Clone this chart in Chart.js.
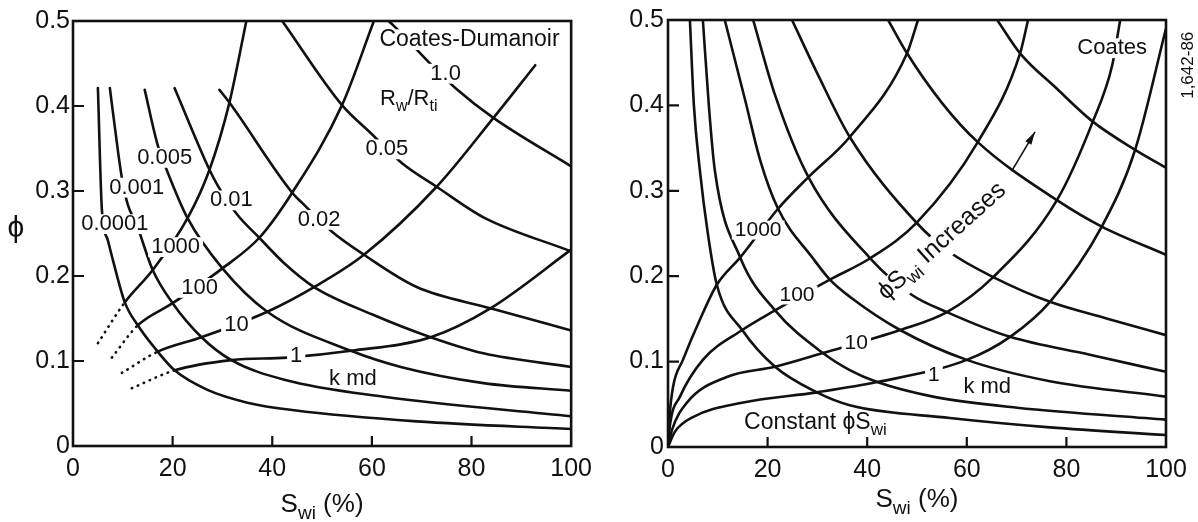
<!doctype html>
<html>

<head>
    <meta charset="utf-8">
    <title>Coates-Dumanoir / Coates</title>
    <script src="https://cdn.jsdelivr.net/npm/chart.js"></script>
    <style>
        body { margin: 0; background: #fff; overflow: hidden; }
        #wrap { position: relative; width: 1198px; height: 522px; }
        #left { position: absolute; left: 0; top: 0; }
        #right { position: absolute; left: 600px; top: 0; }
    </style>
</head>

<body>
    <div id="wrap">
        <canvas id="left" width="600" height="522"></canvas>
        <canvas id="right" width="598" height="522"></canvas>
    </div>

    <script>
        // ---------- left panel: Coates-Dumanoir (Swi in %, phi as fraction) ----------
        const cdRwLabels = ['0.0001', '0.001', '0.005', '0.01', '0.02', '0.05', '1.0'];

        const cdRw1Swi = [5.0, 5.8, 7.0, 8.0, 10.4, 13.0, 17.0, 20.4, 27.0, 35.0, 44.4, 69.0, 100];
        const cdRw1Phi = [0.421, 0.278, 0.242, 0.219, 0.169, 0.142, 0.111, 0.089, 0.066, 0.051, 0.042, 0.029, 0.020];
        const cdRw2Swi = [7.4, 9.0, 9.8, 11.0, 12.8, 16.0, 20.0, 25.8, 31.8, 42.4, 62.4, 100];
        const cdRw2Phi = [0.421, 0.348, 0.316, 0.284, 0.260, 0.207, 0.168, 0.128, 0.101, 0.078, 0.058, 0.035];
        const cdRw3Swi = [14.4, 17.0, 18.8, 23.0, 30.0, 39.0, 55.8, 65.8, 82.4, 100];
        const cdRw3Phi = [0.419, 0.354, 0.325, 0.268, 0.209, 0.158, 0.112, 0.093, 0.074, 0.065];
        const cdRw4Swi = [20.4, 27.4, 29.0, 33.0, 37.4, 42.4, 48.4, 60.0, 71.8, 82.4, 100];
        const cdRw4Phi = [0.421, 0.325, 0.307, 0.272, 0.245, 0.215, 0.187, 0.155, 0.128, 0.109, 0.093];
        const cdRw5Swi = [29.4, 31.4, 44.0, 46.0, 52.0, 58.4, 69.0, 83.8, 100];
        const cdRw5Phi = [0.419, 0.404, 0.298, 0.286, 0.252, 0.225, 0.187, 0.162, 0.136];
        const cdRw6Swi = [42.0, 54.0, 59.8, 66.0, 73.0, 82.4, 100];
        const cdRw6Phi = [0.5, 0.401, 0.368, 0.333, 0.305, 0.269, 0.229];
        const cdRw7Swi = [63.4, 65.8, 72.0, 76.8, 84.4, 100];
        const cdRw7Phi = [0.5, 0.486, 0.448, 0.421, 0.386, 0.329];

        // permeability lines, k md (first segment is the dotted extension)
        const cdKLabels = ['1000', '100', '10', '1'];
        const cdK1000Swi = [5.0, 10.4, 16.0, 23.0, 27.4, 31.4, 34.8];
        const cdK1000Phi = [0.121, 0.169, 0.207, 0.268, 0.325, 0.404, 0.5];
        const cdK100Swi = [7.8, 13.0, 20.0, 30.0, 37.4, 44.0, 54.0, 60.4];
        const cdK100Phi = [0.104, 0.142, 0.168, 0.209, 0.245, 0.298, 0.401, 0.5];
        const cdK10Swi = [9.8, 17.0, 25.8, 39.0, 48.4, 58.4, 73.0, 84.4, 92.8];
        const cdK10Phi = [0.086, 0.111, 0.128, 0.158, 0.187, 0.225, 0.305, 0.386, 0.448];
        const cdK1Swi = [11.8, 20.4, 31.8, 43.0, 55.8, 71.8, 83.8, 100];
        const cdK1Phi = [0.068, 0.089, 0.101, 0.104, 0.112, 0.128, 0.162, 0.231];

        // ---------- right panel: Coates ----------
        const coC1Swi = [4.4, 5.2, 6.4, 8.0, 9.8, 14.9, 21.5, 29.9, 36.5, 56.6, 76.7, 100];
        const coC1Phi = [0.5, 0.40, 0.324, 0.250, 0.190, 0.137, 0.094, 0.064, 0.049, 0.034, 0.023, 0.014];
        const coC2Swi = [7.0, 8.2, 9.4, 14.5, 21.5, 31.1, 36.5, 42.0, 53.2, 70.1, 100];
        const coC2Phi = [0.5, 0.40, 0.324, 0.222, 0.160, 0.110, 0.090, 0.076, 0.059, 0.046, 0.032];
        const coC3Swi = [11.4, 15.5, 18.5, 22.1, 29.1, 32.5, 36.5, 46.6, 60.0, 76.7, 100];
        const coC3Phi = [0.5, 0.406, 0.336, 0.279, 0.221, 0.196, 0.176, 0.137, 0.102, 0.077, 0.059];
        const coC4Swi = [17.1, 21.5, 28.2, 40.6, 49.0, 56.0, 68.7, 84.7, 100];
        const coC4Phi = [0.5, 0.412, 0.316, 0.221, 0.178, 0.158, 0.129, 0.108, 0.088];
        const coC5Swi = [24.9, 30.1, 36.5, 50.0, 56.6, 65.3, 76.7, 88.4, 100];
        const coC5Phi = [0.5, 0.436, 0.363, 0.262, 0.228, 0.199, 0.170, 0.150, 0.131];
        const coC6Swi = [44.2, 48.0, 55.0, 62.2, 78.1, 87.1, 100];
        const coC6Phi = [0.5, 0.461, 0.403, 0.357, 0.289, 0.258, 0.225];
        const coC7Swi = [66.1, 70.7, 78.0, 85.3, 93.8, 100];
        const coC7Phi = [0.5, 0.461, 0.420, 0.381, 0.348, 0.327];

        const coKLabels = ['1000', '100', '10', '1'];
        const coK1000Swi = [0, 0.3, 1.0, 3.0, 6.4, 9.8, 14.5, 22.1, 28.2, 36.5, 48.0, 50.2];
        const coK1000Phi = [0, 0.035, 0.070, 0.102, 0.149, 0.190, 0.222, 0.279, 0.316, 0.363, 0.461, 0.5];
        const coK100Swi = [0, 0.4, 2.4, 7.0, 14.9, 21.5, 32.5, 40.6, 50.0, 62.2, 70.7, 72.3];
        const coK100Phi = [0, 0.026, 0.059, 0.102, 0.137, 0.160, 0.196, 0.221, 0.263, 0.357, 0.461, 0.5];
        const coK10Swi = [0, 0.8, 3.8, 11.8, 21.5, 31.1, 46.6, 56.0, 65.3, 78.1, 85.3, 89.2, 90.8];
        const coK10Phi = [0, 0.020, 0.052, 0.082, 0.094, 0.110, 0.137, 0.158, 0.199, 0.289, 0.381, 0.447, 0.5];
        const coK1Swi = [0, 1.4, 5.0, 15.1, 29.9, 42.0, 60.0, 68.7, 76.7, 87.1, 93.8, 100];
        const coK1Phi = [0, 0.018, 0.035, 0.052, 0.064, 0.076, 0.102, 0.129, 0.170, 0.258, 0.348, 0.49];

        // ---------- drawing helpers ----------
        const FONT = '"Liberation Sans", Arial, sans-serif';
        const INK = '#111';

        function curve(xs, ys, dottedStart) {
            const ds = {
                data: xs.map((v, i) => ({ x: v, y: ys[i] })),
                showLine: true,
                borderColor: INK,
                borderWidth: 2.6,
                borderCapStyle: 'round',
                pointRadius: 0,
                fill: false,
                cubicInterpolationMode: 'monotone'
            };
            if (dottedStart) {
                ds.segment = { borderDash: c => c.p0DataIndex === 0 ? [0.5, 6] : undefined };
            }
            return ds;
        }

        // parts: [[text, isSubscript], ...]
        function drawRich(ctx, px, py, parts, size, rot, bg) {
            ctx.save();
            ctx.translate(px, py);
            if (rot) ctx.rotate(rot * Math.PI / 180);
            const subSize = Math.round(size * 0.72);
            const widths = [];
            let w = 0;
            parts.forEach(([t, sub]) => {
                ctx.font = (sub ? subSize : size) + 'px ' + FONT;
                const m = ctx.measureText(t).width;
                widths.push(m);
                w += m;
            });
            let cx = -w / 2;
            const hasSub = parts.some(p => p[1]);
            if (bg) {
                ctx.fillStyle = '#fff';
                ctx.fillRect(cx - 3, -size * 0.45, w + 6, size * (hasSub ? 1.15 : 0.9));
            }
            ctx.fillStyle = INK;
            ctx.textBaseline = 'middle';
            ctx.textAlign = 'left';
            parts.forEach(([t, sub], i) => {
                ctx.font = (sub ? subSize : size) + 'px ' + FONT;
                ctx.fillText(t, cx, sub ? size * 0.32 : 0);
                cx += widths[i];
            });
            ctx.restore();
        }

        function paper(cfg) {
            return {
                id: 'paper',
                beforeDraw(chart) {
                    const { ctx, width, height } = chart;
                    ctx.save();
                    ctx.fillStyle = '#fff';
                    ctx.fillRect(0, 0, width, height);
                    ctx.restore();
                },
                afterDatasetsDraw(chart) {
                    const { ctx, chartArea: { left, right, top, bottom }, scales: { x, y } } = chart;
                    ctx.save();

                    cfg.labels.forEach(l => {
                        drawRich(ctx, x.getPixelForValue(l.x), y.getPixelForValue(l.y),
                            l.parts, l.size || 22, l.rot || 0, l.bg !== false);
                    });

                    if (cfg.arrow) {
                        const a = cfg.arrow;
                        const x0 = x.getPixelForValue(a[0]), y0 = y.getPixelForValue(a[1]);
                        const x1 = x.getPixelForValue(a[2]), y1 = y.getPixelForValue(a[3]);
                        const ang = Math.atan2(y1 - y0, x1 - x0);
                        ctx.strokeStyle = INK;
                        ctx.lineWidth = 1.6;
                        ctx.beginPath();
                        ctx.moveTo(x0, y0);
                        ctx.lineTo(x1, y1);
                        ctx.stroke();
                        ctx.fillStyle = INK;
                        ctx.beginPath();
                        ctx.moveTo(x1, y1);
                        ctx.lineTo(x1 - 13 * Math.cos(ang) + 3.5 * Math.sin(ang), y1 - 13 * Math.sin(ang) - 3.5 * Math.cos(ang));
                        ctx.lineTo(x1 - 13 * Math.cos(ang) - 3.5 * Math.sin(ang), y1 - 13 * Math.sin(ang) + 3.5 * Math.cos(ang));
                        ctx.closePath();
                        ctx.fill();
                    }

                    // frame
                    ctx.strokeStyle = INK;
                    ctx.lineWidth = 2.6;
                    ctx.strokeRect(left, top, right - left, bottom - top);

                    // inward tick marks
                    ctx.lineWidth = 2.2;
                    ctx.beginPath();
                    x.ticks.map(t => t.value).filter(v => v > x.min && v < x.max).forEach(v => {
                        const px = x.getPixelForValue(v);
                        ctx.moveTo(px, bottom);
                        ctx.lineTo(px, bottom - 10);
                    });
                    y.ticks.map(t => t.value).filter(v => v > y.min && v < y.max).forEach(v => {
                        const py = y.getPixelForValue(v);
                        ctx.moveTo(left, py);
                        ctx.lineTo(left + 11, py);
                    });
                    ctx.stroke();

                    // axis titles
                    drawRich(ctx, (left + right) / 2, bottom + cfg.xTitleGap,
                        [['S', 0], ['wi', 1], [' (%)', 0]], 26, 0, false);
                    if (cfg.yTitle) {
                        drawRich(ctx, left - 57, y.getPixelForValue(0.256), [[cfg.yTitle, 0]], 30, 0, false);
                    }
                    ctx.restore();
                }
            };
        }

        function options(pad, yWidth, xHeight, yPad) {
            const tickFont = { family: FONT, size: 25 };
            return {
                responsive: false,
                animation: false,
                events: [],
                layout: { padding: pad },
                plugins: { legend: { display: false }, tooltip: { enabled: false } },
                scales: {
                    x: {
                        type: 'linear', min: 0, max: 100,
                        afterFit: s => { s.height = xHeight; },
                        grid: { display: false, drawTicks: false },
                        border: { display: false },
                        ticks: { stepSize: 20, autoSkip: false, maxRotation: 0, padding: 8, color: INK, font: tickFont }
                    },
                    y: {
                        type: 'linear', min: 0, max: 0.5,
                        afterFit: s => { s.width = yWidth; },
                        grid: { display: false, drawTicks: false },
                        border: { display: false },
                        ticks: { stepSize: 0.1, autoSkip: false, padding: yPad, color: INK, font: tickFont }
                    }
                }
            };
        }

        // ---------- left chart ----------
        const cdRwLabelPos = [[8.4, 0.261], [12.8, 0.304], [18.4, 0.339], [31.8, 0.289], [49.4, 0.266], [63.0, 0.349], [74.8, 0.438]];
        const cdKLabelPos = [[20.6, 0.234], [25.4, 0.186], [32.8, 0.142], [44.8, 0.106]];

        const leftLabels = [
            { x: 79.6, y: 0.478, parts: [['Coates-Dumanoir', 0]], size: 23 },
            { x: 67.4, y: 0.408, parts: [['R', 0], ['w', 1], ['/R', 0], ['ti', 1]], bg: false },
            { x: 56.2, y: 0.079, parts: [['k md', 0]], bg: false }
        ]
            .concat(cdRwLabels.map((t, i) => ({ x: cdRwLabelPos[i][0], y: cdRwLabelPos[i][1], parts: [[t, 0]] })))
            .concat(cdKLabels.map((t, i) => ({ x: cdKLabelPos[i][0], y: cdKLabelPos[i][1], parts: [[t, 0]] })));

        new Chart(document.getElementById('left').getContext('2d'), {
            type: 'scatter',
            data: {
                datasets: [
                    curve(cdRw1Swi, cdRw1Phi), curve(cdRw2Swi, cdRw2Phi), curve(cdRw3Swi, cdRw3Phi),
                    curve(cdRw4Swi, cdRw4Phi), curve(cdRw5Swi, cdRw5Phi), curve(cdRw6Swi, cdRw6Phi),
                    curve(cdRw7Swi, cdRw7Phi),
                    curve(cdK1000Swi, cdK1000Phi, true), curve(cdK100Swi, cdK100Phi, true),
                    curve(cdK10Swi, cdK10Phi, true), curve(cdK1Swi, cdK1Phi, true)
                ]
            },
            options: options({ top: 21, right: 27, left: 0, bottom: 0 }, 73, 76, 3),
            plugins: [paper({ labels: leftLabels, xTitleGap: 59, yTitle: 'ϕ' })]
        });

        // ---------- right chart ----------
        const coKLabelPos = [[18.1, 0.254], [25.9, 0.178], [37.8, 0.121], [53.4, 0.084]];

        const rightLabels = [
            { x: 89.2, y: 0.467, parts: [['Coates', 0]] },
            { x: 64.1, y: 0.070, parts: [['k md', 0]], bg: false },
            { x: 29.6, y: 0.028, parts: [['Constant ', 0], ['ϕ', 0], ['S', 0], ['wi', 1]], size: 23, bg: false },
            { x: 55.0, y: 0.241, parts: [['ϕ', 0], ['S', 0], ['wi', 1], [' Increases', 0]], size: 25, rot: -42 },
            { x: 104.4, y: 0.447, parts: [['1,642-86', 0]], size: 17, rot: -90, bg: false }
        ].concat(coKLabels.map((t, i) => ({ x: coKLabelPos[i][0], y: coKLabelPos[i][1], parts: [[t, 0]], size: 21 })));

        new Chart(document.getElementById('right').getContext('2d'), {
            type: 'scatter',
            data: {
                datasets: [
                    curve(coC1Swi, coC1Phi), curve(coC2Swi, coC2Phi), curve(coC3Swi, coC3Phi),
                    curve(coC4Swi, coC4Phi), curve(coC5Swi, coC5Phi), curve(coC6Swi, coC6Phi),
                    curve(coC7Swi, coC7Phi),
                    curve(coK1000Swi, coK1000Phi), curve(coK100Swi, coK100Phi),
                    curve(coK10Swi, coK10Phi), curve(coK1Swi, coK1Phi)
                ]
            },
            options: options({ top: 20, right: 32, left: 0, bottom: 0 }, 68, 75, 4),
            plugins: [paper({ labels: rightLabels, xTitleGap: 53, arrow: [69.1, 0.324, 73.7, 0.369] })]
        });
    </script>
</body>

</html>
